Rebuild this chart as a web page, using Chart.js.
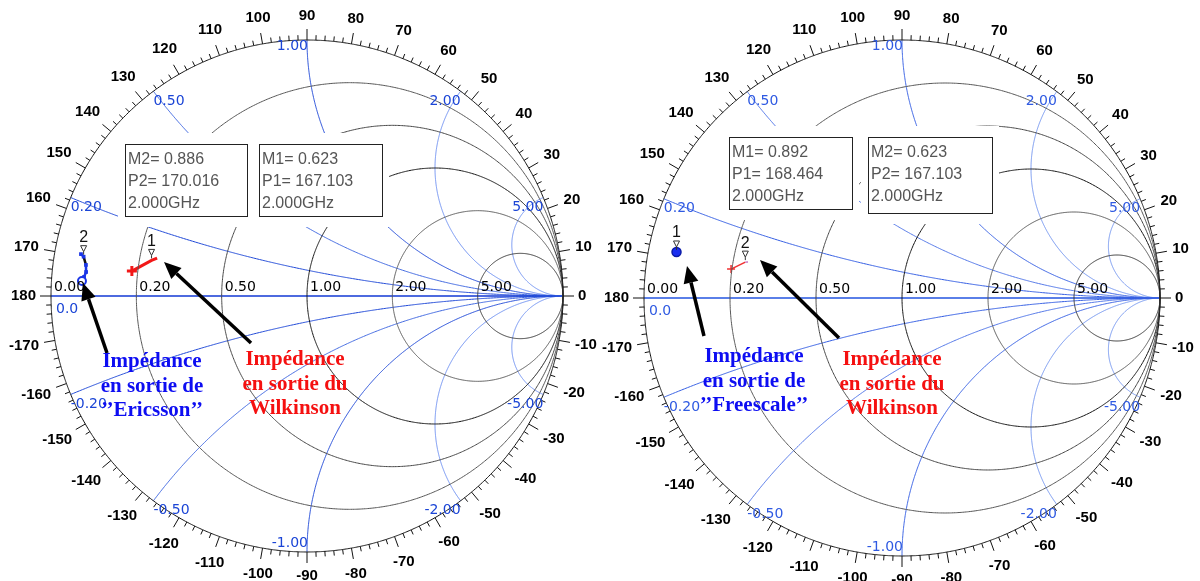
<!DOCTYPE html>
<html>
<head>
<meta charset="utf-8">
<script src="https://cdn.jsdelivr.net/npm/chart.js@4.4.1/dist/chart.umd.min.js"></script>
<style>
html, body { margin: 0; padding: 0; background: #fff; }
#wrap { position: relative; width: 1200px; height: 581px; overflow: hidden; }
canvas { position: absolute; top: 0; }
</style>
</head>
<body>
<div id="wrap">
  <canvas id="smithLeft" width="600" height="581" style="left:0"></canvas>
  <canvas id="smithRight" width="600" height="581" style="left:600px"></canvas>
</div>
<script>
// grille de l'abaque de Smith
const resistances = [0, 0.2, 0.5, 1, 2, 5];
const reactances = [0.2, 0.5, 1, 2, 5, -0.2, -0.5, -1, -2, -5];
const angleLabels = [0, 10, 20, 30, 40, 50, 60, 70, 80, 90, 100, 110, 120, 130, 140, 150, 160, 170, 180,
  -170, -160, -150, -140, -130, -120, -110, -100, -90, -80, -70, -60, -50, -40, -30, -20, -10];
const freqLabel = '2.000GHz';

// abaque gauche : trace Ericsson (module / phase en degres)
const ericssonMag = [0.898, 0.886, 0.872, 0.868, 0.874, 0.881];
const ericssonPhase = [169.5, 170.016, 172.0, 173.8, 175.1, 176.2];
// abaque gauche : trace Wilkinson
const wilkLeftMag = [0.691, 0.623, 0.604];
const wilkLeftPhase = [171.9, 167.103, 165.8];
// marqueurs gauche : M1 (Wilkinson), M2 (Ericsson)
const leftMarkerIds = [1, 2];
const leftMarkerMag = [0.623, 0.886];
const leftMarkerPhase = [167.103, 170.016];

// abaque droite : point Freescale
const freescaleMag = [0.892];
const freescalePhase = [168.464];
// abaque droite : trace Wilkinson
const wilkRightMag = [0.672, 0.623, 0.613];
const wilkRightPhase = [170.4, 167.103, 166.8];
// marqueurs droite : M1 (Freescale), M2 (Wilkinson)
const rightMarkerIds = [1, 2];
const rightMarkerMag = [0.892, 0.623];
const rightMarkerPhase = [168.464, 167.103];

function gamma(mag, deg) {
  const a = deg * Math.PI / 180;
  return { x: mag * Math.cos(a), y: mag * Math.sin(a) };
}
function toPoints(mags, phases) {
  return mags.map((m, i) => gamma(m, phases[i]));
}

function resistanceCircle(r) {
  const c = r / (1 + r), rad = 1 / (1 + r), pts = [];
  for (let i = 0; i <= 240; i++) {
    const a = 2 * Math.PI * i / 240;
    pts.push({ x: c + rad * Math.cos(a), y: rad * Math.sin(a) });
  }
  return pts;
}

function reactanceArc(x) {
  const ax = Math.abs(x), s = Math.sign(x), rho = 1 / ax;
  const P = { x: (ax * ax - 1) / (ax * ax + 1), y: 2 * ax / (ax * ax + 1) };
  const a0 = -Math.PI / 2;
  let a1 = Math.atan2(P.y - rho, P.x - 1);
  if (a1 > a0) a1 -= 2 * Math.PI;
  const pts = [];
  for (let i = 0; i <= 160; i++) {
    const a = a0 + (a1 - a0) * i / 160;
    pts.push({ x: 1 + rho * Math.cos(a), y: s * (rho + rho * Math.sin(a)) });
  }
  return pts;
}

function reactanceEnd(x) {
  return { x: (x * x - 1) / (x * x + 1), y: 2 * x / (x * x + 1) };
}

function drawArrow(c, x0, y0, x1, y1) {
  const ang = Math.atan2(y1 - y0, x1 - x0), hl = 17, hw = 7.5;
  const bx = x1 - hl * Math.cos(ang), by = y1 - hl * Math.sin(ang);
  c.strokeStyle = '#000';
  c.lineWidth = 3.5;
  c.beginPath();
  c.moveTo(x0, y0);
  c.lineTo(bx, by);
  c.stroke();
  c.fillStyle = '#000';
  c.beginPath();
  c.moveTo(x1, y1);
  c.lineTo(bx + hw * Math.sin(ang), by - hw * Math.cos(ang));
  c.lineTo(bx - hw * Math.sin(ang), by + hw * Math.cos(ang));
  c.closePath();
  c.fill();
}

function makeDecor(cfg) {
  return {
    id: 'smithDecor',
    afterDatasetsDraw(chart) {
      const c = chart.ctx, sx = chart.scales.x, sy = chart.scales.y;
      const px = v => sx.getPixelForValue(v), py = v => sy.getPixelForValue(v);
      const cx = px(0), cy = py(0), R = px(1) - px(0);
      c.save();

      // cadres des marqueurs (masquent la grille autour)
      cfg.boxes.forEach(b => {
        c.fillStyle = '#fff';
        c.fillRect(b.x - 7, b.y - 11, b.w + 14, b.h + 22);
      });
      cfg.boxes.forEach(b => {
        const k = cfg.markerIds.indexOf(b.marker);
        c.strokeStyle = '#222';
        c.lineWidth = 1;
        c.strokeRect(b.x + 0.5, b.y + 0.5, b.w, b.h);
        c.fillStyle = '#555';
        c.font = '16px "Liberation Sans", Arial, sans-serif';
        c.textAlign = 'left';
        c.textBaseline = 'middle';
        c.fillText('M' + b.marker + '= ' + cfg.markerMag[k].toFixed(3), b.x + 3, b.y + 16);
        c.fillText('P' + b.marker + '= ' + cfg.markerPhase[k].toFixed(3), b.x + 3, b.y + 38);
        c.fillText(freqLabel, b.x + 3, b.y + 60);
      });

      // graduations d'angle
      c.strokeStyle = '#111';
      c.lineWidth = 1;
      for (let a = -180; a < 180; a += 2) {
        const len = a % 10 === 0 ? 11 : 5;
        const t = a * Math.PI / 180;
        c.beginPath();
        c.moveTo(cx + R * Math.cos(t), cy - R * Math.sin(t));
        c.lineTo(cx + (R + len) * Math.cos(t), cy - (R + len) * Math.sin(t));
        c.stroke();
      }
      c.fillStyle = '#000';
      c.font = 'bold 15px "Liberation Sans", Arial, sans-serif';
      c.textAlign = 'center';
      c.textBaseline = 'middle';
      angleLabels.forEach(a => {
        const t = a * Math.PI / 180, s = String(a);
        const w = c.measureText(s).width;
        const off = 15 + Math.abs(Math.cos(t)) * w / 2 + Math.abs(Math.sin(t)) * 9;
        c.fillText(s, cx + (R + off) * Math.cos(t), cy - (R + off) * Math.sin(t));
      });

      // etiquettes de resistance
      c.font = '14px "DejaVu Sans", sans-serif';
      c.textAlign = 'left';
      c.textBaseline = 'alphabetic';
      c.fillStyle = '#000';
      resistances.forEach(r => {
        const xl = (r - 1) / (r + 1);
        c.fillText(r.toFixed(2), px(xl) + 3, cy - 5);
      });

      // etiquettes de reactance
      c.fillStyle = cfg.blue;
      c.fillText('0.0', px(-1) + 5, cy + 17);
      reactances.forEach(x => {
        const e = reactanceEnd(x);
        const ex = px(e.x), ey = py(e.y);
        c.textAlign = e.x < -0.01 ? 'left' : 'right';
        if (x === -1) {
          c.textBaseline = 'bottom';
          c.fillText(x.toFixed(2), ex + 1, ey - 2);
        } else {
          c.textBaseline = 'top';
          c.fillText(x.toFixed(2), ex + (x === 1 ? 1 : 0), ey + (x === 1 ? -1 : 3));
        }
      });

      // reperes des marqueurs
      cfg.markerIds.forEach((id, k) => {
        const g = gamma(cfg.markerMag[k], cfg.markerPhase[k]);
        const mx = px(g.x), my = py(g.y);
        c.strokeStyle = '#333';
        c.lineWidth = 1;
        c.beginPath();
        c.moveTo(mx - 3, my - 11);
        c.lineTo(mx + 3, my - 11);
        c.lineTo(mx, my - 5);
        c.closePath();
        c.moveTo(mx, my - 5);
        c.lineTo(mx, my - 2);
        c.stroke();
        c.fillStyle = '#111';
        c.font = '16px "Liberation Sans", Arial, sans-serif';
        c.textAlign = 'center';
        c.textBaseline = 'middle';
        c.fillText(String(id), mx, my - 19);
      });

      // fleches et annotations
      cfg.arrows.forEach(a => drawArrow(c, a[0], a[1], a[2], a[3]));
      cfg.notes.forEach(n => {
        c.fillStyle = n.color;
        c.font = 'bold 21px "Liberation Serif", "Times New Roman", serif';
        c.textAlign = 'center';
        c.textBaseline = 'middle';
        n.lines.forEach((l, i) => c.fillText(l, n.x, n.y + i * 24.5));
      });
      c.restore();
    }
  };
}

function buildSmith(cfg) {
  const datasets = [];
  const line = (data, color, width) => ({
    data, showLine: true, borderColor: color, borderWidth: width,
    pointRadius: 0, fill: false, tension: 0.0001
  });
  resistances.forEach((r, i) => datasets.push(line(resistanceCircle(r), cfg.rColors[i], 1)));
  reactances.forEach(x => {
    const ax = Math.abs(x);
    const col = ax >= 2 ? cfg.blueLight : (ax === 0.5 ? cfg.blueMid : cfg.blue);
    datasets.push(line(reactanceArc(x), col, 1));
  });
  datasets.push(line([{ x: -1, y: 0 }, { x: 1, y: 0 }], cfg.axisColor, cfg.axisWidth));
  cfg.traces.forEach(t => datasets.push(t));

  const W = 600, H = 581;
  const xMin = -cfg.cx / cfg.R, xMax = (W - cfg.cx) / cfg.R;
  const yMin = -(H - cfg.cy) / cfg.R, yMax = cfg.cy / cfg.R;
  new Chart(document.getElementById(cfg.canvas), {
    type: 'scatter',
    data: { datasets },
    options: {
      responsive: false,
      animation: false,
      devicePixelRatio: 1,
      events: [],
      layout: { padding: 0, autoPadding: false },
      plugins: { legend: { display: false }, tooltip: { enabled: false } },
      scales: {
        x: {
          type: 'linear', display: false, bounds: 'data', min: xMin, max: xMax,
          afterBuildTicks: s => { s.min = xMin; s.max = xMax; }
        },
        y: {
          type: 'linear', display: false, bounds: 'data', min: yMin, max: yMax,
          afterBuildTicks: s => { s.min = yMin; s.max = yMax; }
        }
      }
    },
    plugins: [makeDecor(cfg)]
  });
}

const ericssonPts = toPoints(ericssonMag, ericssonPhase);
const wilkLeftPts = toPoints(wilkLeftMag, wilkLeftPhase);
const freescalePts = toPoints(freescaleMag, freescalePhase);
const wilkRightPts = toPoints(wilkRightMag, wilkRightPhase);

buildSmith({
  canvas: 'smithLeft', cx: 307, cy: 296, R: 256,
  blue: '#1b45d6', blueMid: '#3a63df', blueLight: '#6a8df0',
  axisColor: '#1238d4', axisWidth: 1.5,
  rColors: ['#111', '#555', '#444', '#111', '#555', '#333'],
  markerIds: leftMarkerIds, markerMag: leftMarkerMag, markerPhase: leftMarkerPhase,
  traces: [
    {
      data: ericssonPts, showLine: true, borderWidth: 2.5, tension: 0, fill: false,
      borderColor: '#1a35e6', backgroundColor: '#1a35e6', pointBorderColor: '#1a35e6',
      segment: { borderColor: ctx => ctx.p0DataIndex === 1 ? '#111' : '#1a35e6' },
      pointStyle: ctx => ctx.dataIndex === ericssonPts.length - 1 ? 'circle' : 'rect',
      pointBorderWidth: 2,
      pointBackgroundColor: ctx => ctx.dataIndex === ericssonPts.length - 1 ? '#fff' : '#1a35e6',
      pointRadius: ctx => ctx.dataIndex === ericssonPts.length - 1 ? 4 : 1.2
    },
    {
      data: wilkLeftPts, showLine: true, borderWidth: 3, tension: 0, fill: false,
      borderColor: '#f21818', pointRadius: 0
    },
    {
      data: [wilkLeftPts[0]], pointStyle: 'cross', pointRadius: 5, pointBorderWidth: 3,
      borderColor: '#f21818'
    }
  ],
  boxes: [
    { marker: 2, x: 125, y: 144, w: 122, h: 72 },
    { marker: 1, x: 259, y: 144, w: 123, h: 72 }
  ],
  arrows: [[107, 353, 83, 283], [251, 343, 164, 262]],
  notes: [
    { lines: ['Impédance', 'en sortie de', '’’Ericsson’’'], color: '#0d0df2', x: 152, y: 362 },
    { lines: ['Impédance', 'en sortie du', 'Wilkinson'], color: '#f51010', x: 295, y: 360 }
  ]
});

buildSmith({
  canvas: 'smithRight', cx: 302, cy: 298, R: 258,
  blue: '#2f5ae2', blueMid: '#4a70e6', blueLight: '#6f92ee',
  axisColor: '#5a7fe8', axisWidth: 2,
  rColors: ['#111', '#555', '#444', '#111', '#555', '#333'],
  markerIds: rightMarkerIds, markerMag: rightMarkerMag, markerPhase: rightMarkerPhase,
  traces: [
    {
      data: freescalePts, pointStyle: 'circle', pointRadius: 4.5, pointBorderWidth: 1.5,
      backgroundColor: '#1a2ef0', borderColor: '#0a1aa8'
    },
    {
      data: wilkRightPts, showLine: true, borderWidth: 1.5, tension: 0, fill: false,
      borderColor: '#f03030', pointRadius: 0,
      segment: { borderColor: ctx => ctx.p0DataIndex === 1 ? '#c070c8' : '#f03030' }
    },
    {
      data: [wilkRightPts[0]], pointStyle: 'cross', pointRadius: 4, pointBorderWidth: 1.5,
      borderColor: '#f03030'
    }
  ],
  boxes: [
    { marker: 1, x: 129, y: 137, w: 123, h: 72 },
    { marker: 2, x: 268, y: 137, w: 124, h: 76 }
  ],
  arrows: [[104, 336, 87, 266], [239, 338, 160, 260]],
  notes: [
    { lines: ['Impédance', 'en sortie de', '’’Freescale’’'], color: '#0d0df2', x: 154, y: 357 },
    { lines: ['Impédance', 'en sortie du', 'Wilkinson'], color: '#f51010', x: 292, y: 360 }
  ]
});
</script>
</body>
</html>
